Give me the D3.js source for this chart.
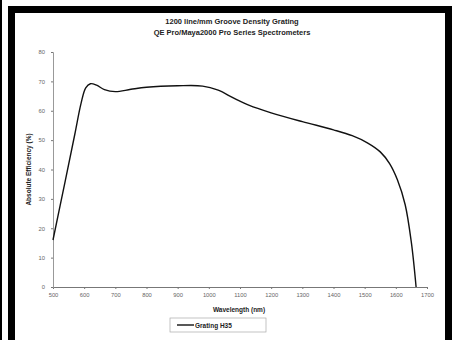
<!DOCTYPE html>
<html>
<head>
<meta charset="utf-8">
<script src="https://cdn.jsdelivr.net/npm/d3@7"></script>
<style>
  body { margin: 0; background: #fff; }
  svg { display: block; font-family: "Liberation Sans", Arial, sans-serif; }
</style>
</head>
<body>
<div id="container"></div>
<script>
/* CONSTANTS AND GLOBALS */
const width = 457,
  height = 340,
  margin = { top: 52, bottom: 53, left: 53, right: 30 }

// data
const wavelength = [500, 540, 570, 590, 605, 620, 640, 665, 700, 750, 800, 900, 980, 1030, 1080, 1130, 1200, 1300, 1400, 1460, 1510, 1550, 1580, 1605, 1630, 1650, 1665]
const efficiency = [16, 36.5, 52, 62.5, 67.8, 69.2, 68.7, 67.2, 66.5, 67.3, 68, 68.5, 68.4, 67, 64.3, 61.8, 59.3, 56.3, 53.5, 51.5, 49, 46, 42, 36.5, 28, 15, 0]
const xTicks = [500, 600, 700, 800, 900, 1000, 1100, 1200, 1300, 1400, 1500, 1600, 1700]
const yTicks = [0, 10, 20, 30, 40, 50, 60, 70, 80]
const titleLines = ["1200 line/mm Groove Density Grating", "QE Pro/Maya2000 Pro Series Spectrometers"]
const seriesName = "Grating H35"

const data = wavelength.map((w, i) => ({ w: w, e: efficiency[i] }))

const svg = d3.select("#container")
  .append("svg")
  .attr("width", width)
  .attr("height", height)

// frame
svg.append("rect").attr("x", 0).attr("y", 0).attr("width", 2).attr("height", height).attr("fill", "#000")
svg.append("path")
  .attr("d", `M11.5,${height} V9.5 H448.5 V${height}`)
  .attr("fill", "none")
  .attr("stroke", "#000")
  .attr("stroke-width", 7)

// + SCALES
const xScale = d3.scaleLinear()
  .domain([500, 1700])
  .range([margin.left, 427])

const yScale = d3.scaleLinear()
  .domain([0, 80])
  .range([height - margin.bottom, margin.top])

// AXES
const xAxis = d3.axisBottom(xScale)
  .tickValues(xTicks)
  .tickSize(2)
  .tickFormat(d3.format("d"))

const xAxisGroup = svg.append("g")
  .attr("transform", `translate(0, ${yScale(0)})`)
  .call(xAxis)
xAxisGroup.select(".domain").attr("stroke", "#777")
xAxisGroup.selectAll(".tick line").attr("stroke", "#777")
xAxisGroup.selectAll("text")
  .attr("fill", "#666")
  .attr("font-size", 5.8)
  .attr("dy", "0.9em")

const yAxis = d3.axisLeft(yScale)
  .tickValues(yTicks)
  .tickSize(2)

const yAxisGroup = svg.append("g")
  .attr("transform", `translate(${margin.left}, 0)`)
  .call(yAxis)
yAxisGroup.select(".domain").attr("stroke", "#999")
yAxisGroup.selectAll(".tick line").attr("stroke", "#777")
yAxisGroup.selectAll("text")
  .attr("fill", "#666")
  .attr("font-size", 5.8)
  .attr("x", -8)

// LINE
const lineGen = d3.line()
  .x(d => xScale(d.w))
  .y(d => yScale(d.e))
  .curve(d3.curveCatmullRom.alpha(0.5))

svg.append("path")
  .datum(data)
  .attr("fill", "none")
  .attr("stroke", "#111")
  .attr("stroke-width", 1.4)
  .attr("d", lineGen)

// Titles
svg.selectAll(".title")
  .data(titleLines)
  .join("text")
  .attr("class", "title")
  .attr("x", 232)
  .attr("y", (d, i) => 24 + i * 11)
  .attr("text-anchor", "middle")
  .attr("font-size", 7.5)
  .attr("font-weight", "bold")
  .attr("fill", "#222")
  .text(d => d)

svg.append("text")
  .attr("transform", `translate(31, ${(yScale(0) + yScale(80)) / 2}) rotate(-90)`)
  .attr("text-anchor", "middle")
  .attr("font-size", 6.5)
  .attr("font-weight", "bold")
  .attr("fill", "#222")
  .text("Absolute Efficiency (%)")

svg.append("text")
  .attr("x", 239)
  .attr("y", 312)
  .attr("text-anchor", "middle")
  .attr("font-size", 6.5)
  .attr("font-weight", "bold")
  .attr("fill", "#222")
  .text("Wavelength (nm)")

// legend
const legend = svg.append("g").attr("transform", "translate(170, 318)")
legend.append("rect")
  .attr("width", 96).attr("height", 14)
  .attr("fill", "#fff").attr("stroke", "#aaa").attr("stroke-width", 0.7)
legend.append("line")
  .attr("x1", 7).attr("x2", 24).attr("y1", 7).attr("y2", 7)
  .attr("stroke", "#111").attr("stroke-width", 1.4)
legend.append("text")
  .attr("x", 25).attr("y", 9.5)
  .attr("font-size", 6.5)
  .attr("font-weight", "bold")
  .attr("fill", "#222")
  .text(seriesName)
</script>
</body>
</html>
